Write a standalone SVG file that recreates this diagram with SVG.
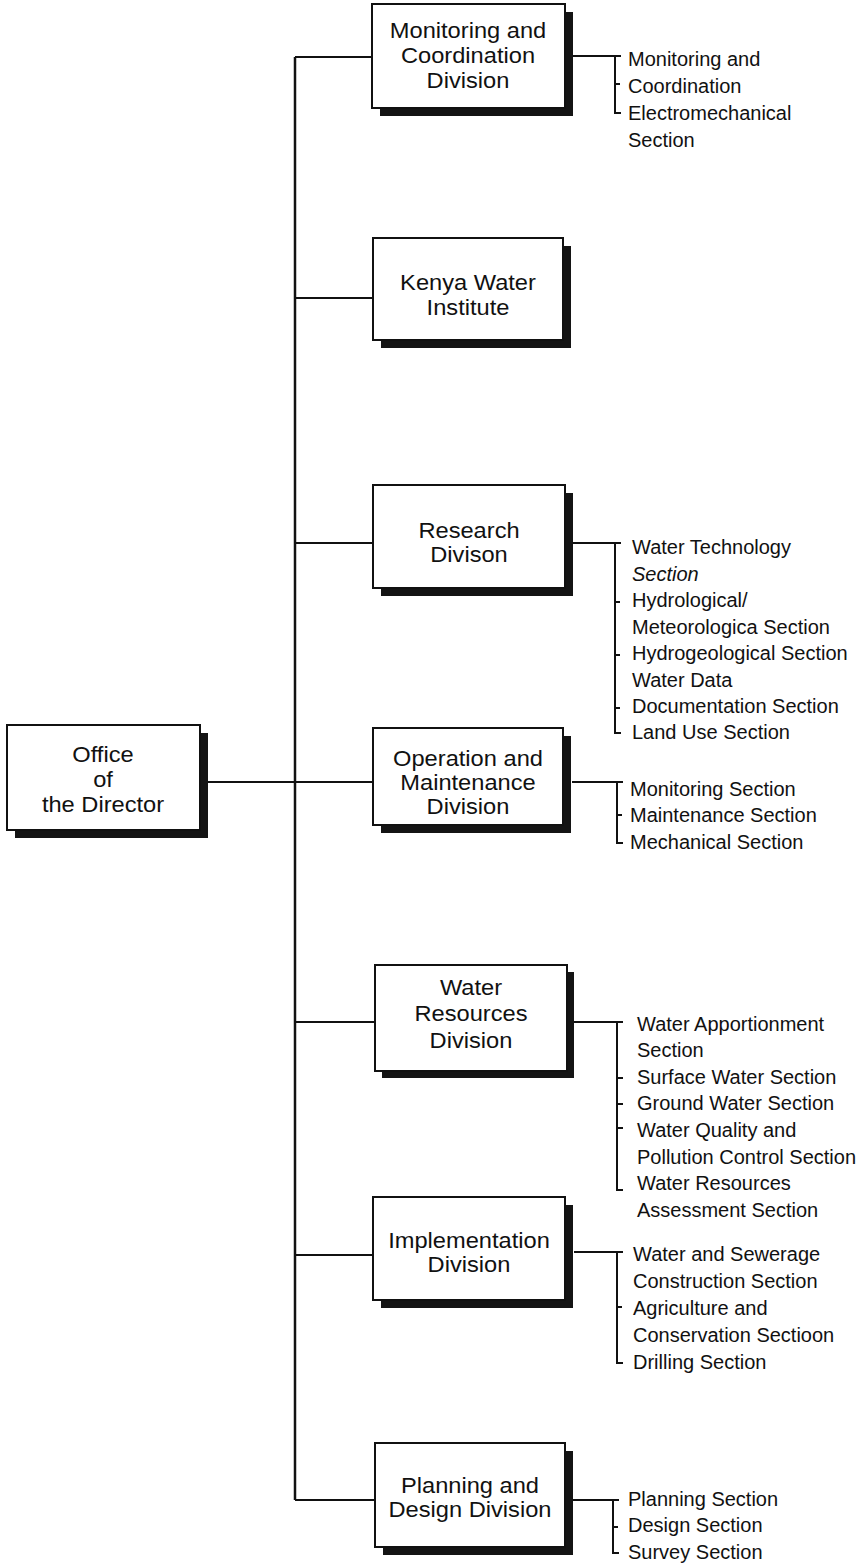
<svg xmlns="http://www.w3.org/2000/svg" width="856" height="1567" viewBox="0 0 856 1567">
  <style>
    .shadow { fill: #141414; }
    .box { fill: #ffffff; stroke: #111111; stroke-width: 2; }
    .title { font-family: "Liberation Sans", Arial, sans-serif; font-size: 21.5px; fill: #111111; text-anchor: middle; }
    .item { font-family: "Liberation Sans", Arial, sans-serif; font-size: 20px; fill: #111111; }
    .line { fill: none; stroke: #111111; stroke-width: 2; }
    .trunk { fill: none; stroke: #111111; stroke-width: 2.5; }
  </style>
  <rect width="856" height="1567" fill="#ffffff"/>

  <!-- connectors: trunk, branches and section brackets -->
  <g id="connectors">
    <path class="trunk" d="M295,57 V1500"/>
    <path class="line" d="M295,57 H372 M295,298 H373 M295,543 H373 M207,782 H373 M295,1022 H375 M295,1255 H373 M295,1500 H375"/>
    <!-- Monitoring and Coordination sections -->
    <path class="line" d="M573,56 H621 M615,56 V113 H621 M615,84 H620"/>
    <!-- Research sections -->
    <path class="line" d="M573,543 H621 M615,543 V733 H621 M615,602 H620 M615,655 H620 M615,708 H620"/>
    <!-- Operation and Maintenance sections -->
    <path class="line" d="M572,782 H623 M617,782 V843 H623 M617,815 H622"/>
    <!-- Water Resources sections -->
    <path class="line" d="M574,1022 H623 M617,1022 V1190 H623 M617,1078 H623 M617,1104 H623 M617,1128 H623"/>
    <!-- Implementation sections -->
    <path class="line" d="M574,1252 H623 M617,1252 V1363 H623 M617,1307 H622"/>
    <!-- Planning and Design sections -->
    <path class="line" d="M573,1500 H619 M613,1500 V1553 H619 M613,1527 H618"/>
  </g>

  <!-- box titles are set in a slightly widened face: scale(1.1,1) about the box centre -->
  <g id="office">
    <rect class="shadow" x="15" y="733" width="193" height="105"/>
    <rect class="box" x="7" y="725" width="193" height="105"/>
    <g transform="translate(103,0) scale(1.1,1)">
      <text class="title" x="0" y="762">Office</text>
      <text class="title" x="0" y="787">of</text>
      <text class="title" x="0" y="812">the Director</text>
    </g>
  </g>

  <g id="monitoring">
    <rect class="shadow" x="380" y="12" width="193" height="104"/>
    <rect class="box" x="372" y="4" width="193" height="104"/>
    <g transform="translate(468,0) scale(1.1,1)">
      <text class="title" x="0" y="38">Monitoring and</text>
      <text class="title" x="0" y="63">Coordination</text>
      <text class="title" x="0" y="88">Division</text>
    </g>
  </g>
  <g id="monitoring-sections">
    <text class="item" x="628" y="66">Monitoring and</text>
    <text class="item" x="628" y="93">Coordination</text>
    <text class="item" x="628" y="120">Electromechanical</text>
    <text class="item" x="628" y="147">Section</text>
  </g>

  <g id="kenya">
    <rect class="shadow" x="381" y="246" width="190" height="102"/>
    <rect class="box" x="373" y="238" width="190" height="102"/>
    <g transform="translate(468,0) scale(1.1,1)">
      <text class="title" x="0" y="290">Kenya Water</text>
      <text class="title" x="0" y="315">Institute</text>
    </g>
  </g>

  <g id="research">
    <rect class="shadow" x="381" y="493" width="192" height="103"/>
    <rect class="box" x="373" y="485" width="192" height="103"/>
    <g transform="translate(469,0) scale(1.1,1)">
      <text class="title" x="0" y="538">Research</text>
      <text class="title" x="0" y="562">Divison</text>
    </g>
  </g>
  <g id="research-sections">
    <text class="item" x="632" y="554">Water Technology</text>
    <text class="item" x="632" y="581" font-style="italic">Section</text>
    <text class="item" x="632" y="607">Hydrological/</text>
    <text class="item" x="632" y="634">Meteorologica Section</text>
    <text class="item" x="632" y="660">Hydrogeological Section</text>
    <text class="item" x="632" y="687">Water Data</text>
    <text class="item" x="632" y="713">Documentation Section</text>
    <text class="item" x="632" y="739">Land Use Section</text>
  </g>

  <g id="operation">
    <rect class="shadow" x="381" y="736" width="190" height="97"/>
    <rect class="box" x="373" y="728" width="190" height="97"/>
    <g transform="translate(468,0) scale(1.1,1)">
      <text class="title" x="0" y="766">Operation and</text>
      <text class="title" x="0" y="790">Maintenance</text>
      <text class="title" x="0" y="814">Division</text>
    </g>
  </g>
  <g id="operation-sections">
    <text class="item" x="630" y="796">Monitoring Section</text>
    <text class="item" x="630" y="822">Maintenance Section</text>
    <text class="item" x="630" y="849">Mechanical Section</text>
  </g>

  <g id="water-resources">
    <rect class="shadow" x="382" y="972" width="192" height="106"/>
    <rect class="box" x="375" y="965" width="192" height="106"/>
    <g transform="translate(471,0) scale(1.1,1)">
      <text class="title" x="0" y="995">Water</text>
      <text class="title" x="0" y="1021">Resources</text>
      <text class="title" x="0" y="1048">Division</text>
    </g>
  </g>
  <g id="water-resources-sections">
    <text class="item" x="637" y="1031">Water Apportionment</text>
    <text class="item" x="637" y="1057">Section</text>
    <text class="item" x="637" y="1084">Surface Water Section</text>
    <text class="item" x="637" y="1110">Ground Water Section</text>
    <text class="item" x="637" y="1137">Water Quality and</text>
    <text class="item" x="637" y="1164">Pollution Control Section</text>
    <text class="item" x="637" y="1190">Water Resources</text>
    <text class="item" x="637" y="1217">Assessment Section</text>
  </g>

  <g id="implementation">
    <rect class="shadow" x="381" y="1205" width="192" height="103"/>
    <rect class="box" x="373" y="1197" width="192" height="103"/>
    <g transform="translate(469,0) scale(1.1,1)">
      <text class="title" x="0" y="1248">Implementation</text>
      <text class="title" x="0" y="1272">Division</text>
    </g>
  </g>
  <g id="implementation-sections">
    <text class="item" x="633" y="1261">Water and Sewerage</text>
    <text class="item" x="633" y="1288">Construction Section</text>
    <text class="item" x="633" y="1315">Agriculture and</text>
    <text class="item" x="633" y="1342">Conservation Sectioon</text>
    <text class="item" x="633" y="1369">Drilling Section</text>
  </g>

  <g id="planning">
    <rect class="shadow" x="383" y="1451" width="190" height="104"/>
    <rect class="box" x="375" y="1443" width="190" height="104"/>
    <g transform="translate(470,0) scale(1.1,1)">
      <text class="title" x="0" y="1493">Planning and</text>
      <text class="title" x="0" y="1517">Design Division</text>
    </g>
  </g>
  <g id="planning-sections">
    <text class="item" x="628" y="1506">Planning Section</text>
    <text class="item" x="628" y="1532">Design Section</text>
    <text class="item" x="628" y="1559">Survey Section</text>
  </g>
</svg>
